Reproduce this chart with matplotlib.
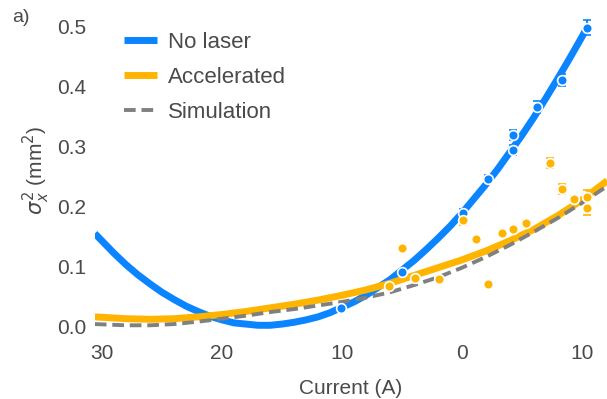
"""Beam size squared vs quadrupole current: no laser, accelerated, simulation."""

import matplotlib

matplotlib.use("Agg")

import matplotlib.pyplot as plt

# fitted curves (current in A, sigma_x^2 in mm^2)
blue_curve_current = [-30.6, -29, -28, -27, -26, -25, -24, -23, -22, -21, -20, -19, -18, -17,
                      -16, -15, -14, -13, -12, -11, -10, -9, -8, -7, -6, -5, -4, -3, -2, -1,
                      0, 1, 2, 3, 4, 5, 6, 7, 8, 9, 10, 10.4]
no_laser_fit = [0.155, 0.122, 0.103, 0.086, 0.071, 0.057, 0.045, 0.034, 0.025, 0.017,
                0.011, 0.006, 0.004, 0.002, 0.002, 0.004, 0.007, 0.011, 0.016, 0.023,
                0.032, 0.041, 0.052, 0.065, 0.078, 0.094, 0.110, 0.128, 0.147, 0.167,
                0.189, 0.213, 0.237, 0.263, 0.291, 0.319, 0.349, 0.381, 0.414, 0.448,
                0.483, 0.498]

curve_current = [-30.6, -28, -26, -24, -22, -20, -18, -16, -14, -12, -10,
                 -8, -6, -4, -2, 0, 2, 4, 6, 8, 10, 12.1]
accel_fit = [0.016, 0.013, 0.012, 0.013, 0.016, 0.020, 0.025, 0.031, 0.037, 0.044, 0.052,
             0.061, 0.072, 0.085, 0.098, 0.111, 0.126, 0.143, 0.162, 0.185, 0.211, 0.243]
sim_curve = [0.004, 0.002, 0.002, 0.004, 0.008, 0.013, 0.018, 0.024, 0.029, 0.035, 0.041,
             0.048, 0.057, 0.069, 0.082, 0.098, 0.116, 0.136, 0.158, 0.181, 0.206, 0.234]

# measured points
no_laser_current = [-10.1, -5.0, 0.1, 2.2, 4.25, 4.25, 6.25, 8.3, 10.4]
no_laser_sigma2 = [0.031, 0.091, 0.189, 0.246, 0.294, 0.319, 0.366, 0.411, 0.498]
no_laser_err = [0.003, 0.004, 0.006, 0.006, 0.008, 0.008, 0.010, 0.010, 0.012]

accel_current = [-6.1, -5.0, -3.9, -1.9, 0.1, 1.2, 2.2, 3.3, 4.25, 5.3, 7.3, 8.3, 9.3, 10.4, 10.4]
accel_sigma2 = [0.068, 0.131, 0.081, 0.079, 0.177, 0.146, 0.071, 0.156, 0.162, 0.172,
                0.272, 0.229, 0.212, 0.215, 0.198]
accel_err = [0.003, 0.003, 0.003, 0.003, 0.008, 0.003, 0.003, 0.004, 0.004, 0.006,
             0.008, 0.008, 0.005, 0.012, 0.012]

x_ticks = [-30, -20, -10, 0, 10]
x_tick_labels = ["30", "20", "10", "0", "10"]
y_ticks = [0.0, 0.1, 0.2, 0.3, 0.4, 0.5]

BLUE = "#0A84FF"
ORANGE = "#FFB400"
GREY = "#808080"
TEXT = "#4a4a4a"


def main() -> None:
    plt.rcParams["font.family"] = ["Liberation Sans", "DejaVu Sans"]
    fig = plt.figure(figsize=(6.07, 3.99), dpi=100)
    ax = fig.add_axes([0.1562, 0.1667, 0.8442, 0.812])

    ax.plot(blue_curve_current, no_laser_fit, color=BLUE, lw=5, solid_capstyle="butt",
            solid_joinstyle="round", zorder=2, label="No laser")
    ax.plot(curve_current, accel_fit, color=ORANGE, lw=5, solid_capstyle="butt",
            solid_joinstyle="round", zorder=2, label="Accelerated")
    ax.plot(curve_current, sim_curve, color=GREY, lw=2.8, ls=(0, (3, 1.5)), zorder=3,
            label="Simulation")

    ax.errorbar(no_laser_current, no_laser_sigma2, yerr=no_laser_err, fmt="o", color=BLUE,
                ms=7, mec="white", mew=1.2, capsize=3, elinewidth=1.5, capthick=1.5, zorder=4)
    ax.errorbar(accel_current, accel_sigma2, yerr=accel_err, fmt="o", color=ORANGE,
                ms=7, mec="white", mew=1.2, capsize=3, elinewidth=1.5, capthick=1.5, zorder=4)

    ax.set_xlim(-30.6, 12.1)
    ax.set_ylim(-0.01, 0.53)
    ax.set_xticks(x_ticks)
    ax.set_xticklabels(x_tick_labels)
    ax.set_yticks(y_ticks)
    ax.set_yticklabels([f"{v:.1f}" for v in y_ticks])
    ax.tick_params(length=0, labelsize=15, labelcolor=TEXT)
    ax.tick_params(axis="x", pad=8)
    ax.tick_params(axis="y", pad=6)
    for spine in ax.spines.values():
        spine.set_visible(False)
    ax.set_xlabel("Current (A)", fontsize=15, color=TEXT, labelpad=12)
    ax.set_ylabel(r"$\sigma_x^2$ (mm$^2$)", fontsize=15, color=TEXT, labelpad=4)

    handles, labels = ax.get_legend_handles_labels()
    ax.legend(handles, labels, loc="upper left", bbox_to_anchor=(0.03, 0.968), frameon=False,
              fontsize=16, labelcolor=TEXT, handlelength=1.5, handletextpad=0.5,
              labelspacing=0.63, borderaxespad=0.2)

    fig.text(0.02, 0.955, "a)", fontsize=14, color=TEXT, va="center")
    fig.savefig("out.png", dpi=100)
    plt.close(fig)


if __name__ == "__main__":
    main()
